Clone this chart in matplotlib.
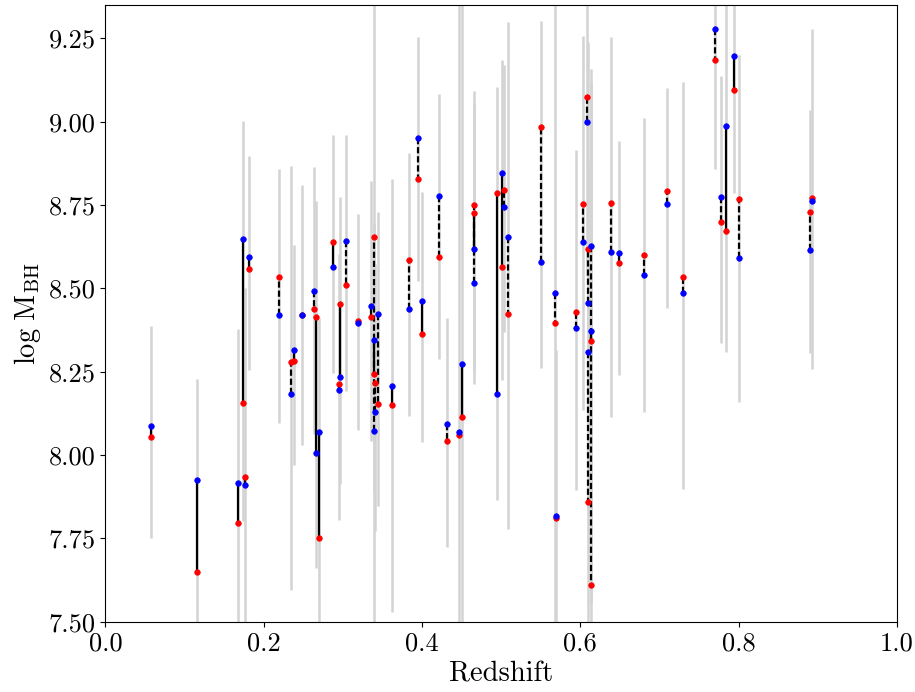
import numpy as np
import matplotlib
matplotlib.use("Agg")
import matplotlib.pyplot as plt

plt.rcParams['font.family'] = 'serif'
plt.rcParams['font.serif'] = ['cmr10', 'DejaVu Serif']
plt.rcParams['mathtext.fontset'] = 'cm'
plt.rcParams['axes.formatter.use_mathtext'] = True

# redshift of each object
z = [0.0577, 0.1155, 0.1673, 0.1736, 0.1819, 0.1765, 0.2198, 0.2384, 0.2350, 0.2481,
     0.2637, 0.2666, 0.2700, 0.2877, 0.3037, 0.2965, 0.2953, 0.3196, 0.3353, 0.3399,
     0.3391, 0.3407, 0.3445, 0.3626, 0.3841, 0.3947, 0.4005, 0.4216, 0.4313, 0.4473,
     0.4510, 0.4662, 0.4662, 0.4953, 0.5012, 0.5037, 0.5084, 0.5501, 0.5682, 0.5688,
     0.5943, 0.6039, 0.6082, 0.6102, 0.6102, 0.6140, 0.6140, 0.6389, 0.6490, 0.6802,
     0.7100, 0.7299, 0.7779, 0.7842, 0.8006, 0.7699, 0.7939, 0.8925, 0.8900]
# log M_BH, first estimate (blue)
m_blue = [8.086, 7.925, 7.916, 8.649, 8.594, 7.911, 8.419, 8.316, 8.183, 8.421,
          8.491, 8.007, 8.070, 8.565, 8.642, 8.233, 8.195, 8.397, 8.448, 8.346,
          8.073, 8.130, 8.423, 8.206, 8.437, 8.950, 8.462, 8.778, 8.094, 8.070,
          8.273, 8.618, 8.516, 8.182, 8.845, 8.744, 8.653, 8.578, 8.487, 7.818,
          8.382, 8.639, 8.999, 8.457, 8.309, 8.627, 8.371, 8.610, 8.606, 8.541,
          8.753, 8.485, 8.773, 8.988, 8.591, 9.278, 9.198, 8.762, 8.614]
# log M_BH, second estimate (red)
m_red = [8.053, 7.649, 7.797, 8.157, 8.558, 7.933, 8.535, 8.283, 8.280, 8.421,
         8.437, 8.414, 7.752, 8.640, 8.509, 8.452, 8.214, 8.402, 8.414, 8.244,
         8.653, 8.216, 8.153, 8.151, 8.585, 8.827, 8.364, 8.594, 8.043, 8.061,
         8.115, 8.725, 8.749, 8.786, 8.564, 8.795, 8.422, 8.983, 8.396, 7.812,
         8.429, 8.753, 9.074, 8.619, 7.860, 7.609, 8.342, 8.757, 8.576, 8.600,
         8.791, 8.533, 8.698, 8.673, 8.769, 9.185, 9.094, 8.772, 8.728]
# uncertainty (grey bars)
m_err = [0.318, 0.44, 0.523, 0.60, 0.321, 0.58, 0.381, 0.33, 0.635, 0.39,
         0.40, 0.55, 0.50, 0.357, 0.383, 0.43, 0.40, 0.324, 0.39, 0.40,
         1.00, 0.40, 0.44, 0.65, 0.395, 0.365, 0.375, 0.397, 0.344, 1.40,
         1.20, 0.42, 0.42, 0.62, 0.48, 0.40, 0.76, 0.52, 1.00, 0.50,
         0.51, 0.56, 0.50, 0.70, 0.80, 1.00, 0.80, 0.57, 0.35, 0.44,
         0.33, 0.61, 0.40, 0.52, 0.52, 0.375, 0.36, 0.51, 0.364]
# connector style: 1 = dashed, 0 = solid
dashed = [0, 0, 0, 0, 0, 0, 1, 0, 1, 0,
          1, 0, 0, 0, 1, 0, 0, 0, 0, 0,
          1, 1, 1, 0, 1, 1, 0, 1, 1, 0,
          0, 0, 1, 0, 0, 1, 1, 1, 1, 0,
          1, 1, 1, 1, 1, 1, 0, 1, 0, 1,
          1, 1, 1, 0, 1, 1, 0, 0, 1]

z = np.array(z)
m_blue = np.array(m_blue)
m_red = np.array(m_red)
m_err = np.array(m_err)
mid = (m_blue + m_red) / 2

fig = plt.figure(figsize=(9.15, 6.92), dpi=100)
ax = fig.add_axes([0.1151, 0.1016, 0.8652, 0.8912])

ax.vlines(z, mid - m_err, mid + m_err, color='lightgrey', lw=1.8, zorder=1)
for k in range(len(z)):
    ls = (0, (2.8, 1.3)) if dashed[k] else '-'
    ax.plot([z[k], z[k]], [m_blue[k], m_red[k]], color='k', lw=1.6, ls=ls, zorder=2)
ax.plot(z, m_red, 'o', color='red', ms=4, mec='red', mew=0.5, zorder=3)
ax.plot(z, m_blue, 'o', color='blue', ms=4, mec='blue', mew=0.5, zorder=4)

ax.set_xlim(0.0, 1.0)
ax.set_ylim(7.5, 9.35)
ax.set_xticks(np.arange(0, 1.01, 0.2))
ax.set_yticks(np.arange(7.5, 9.26, 0.25))
ax.set_xticklabels(['%.1f' % t for t in np.arange(0, 1.01, 0.2)])
ax.set_yticklabels(['%.2f' % t for t in np.arange(7.5, 9.26, 0.25)])
ax.tick_params(labelsize=19)
ax.set_xlabel('Redshift', fontsize=20.5)
ax.set_ylabel(r'$\log\,\mathrm{M}_{\mathrm{BH}}$', fontsize=20.5)

fig.savefig('out.png', dpi=100)
